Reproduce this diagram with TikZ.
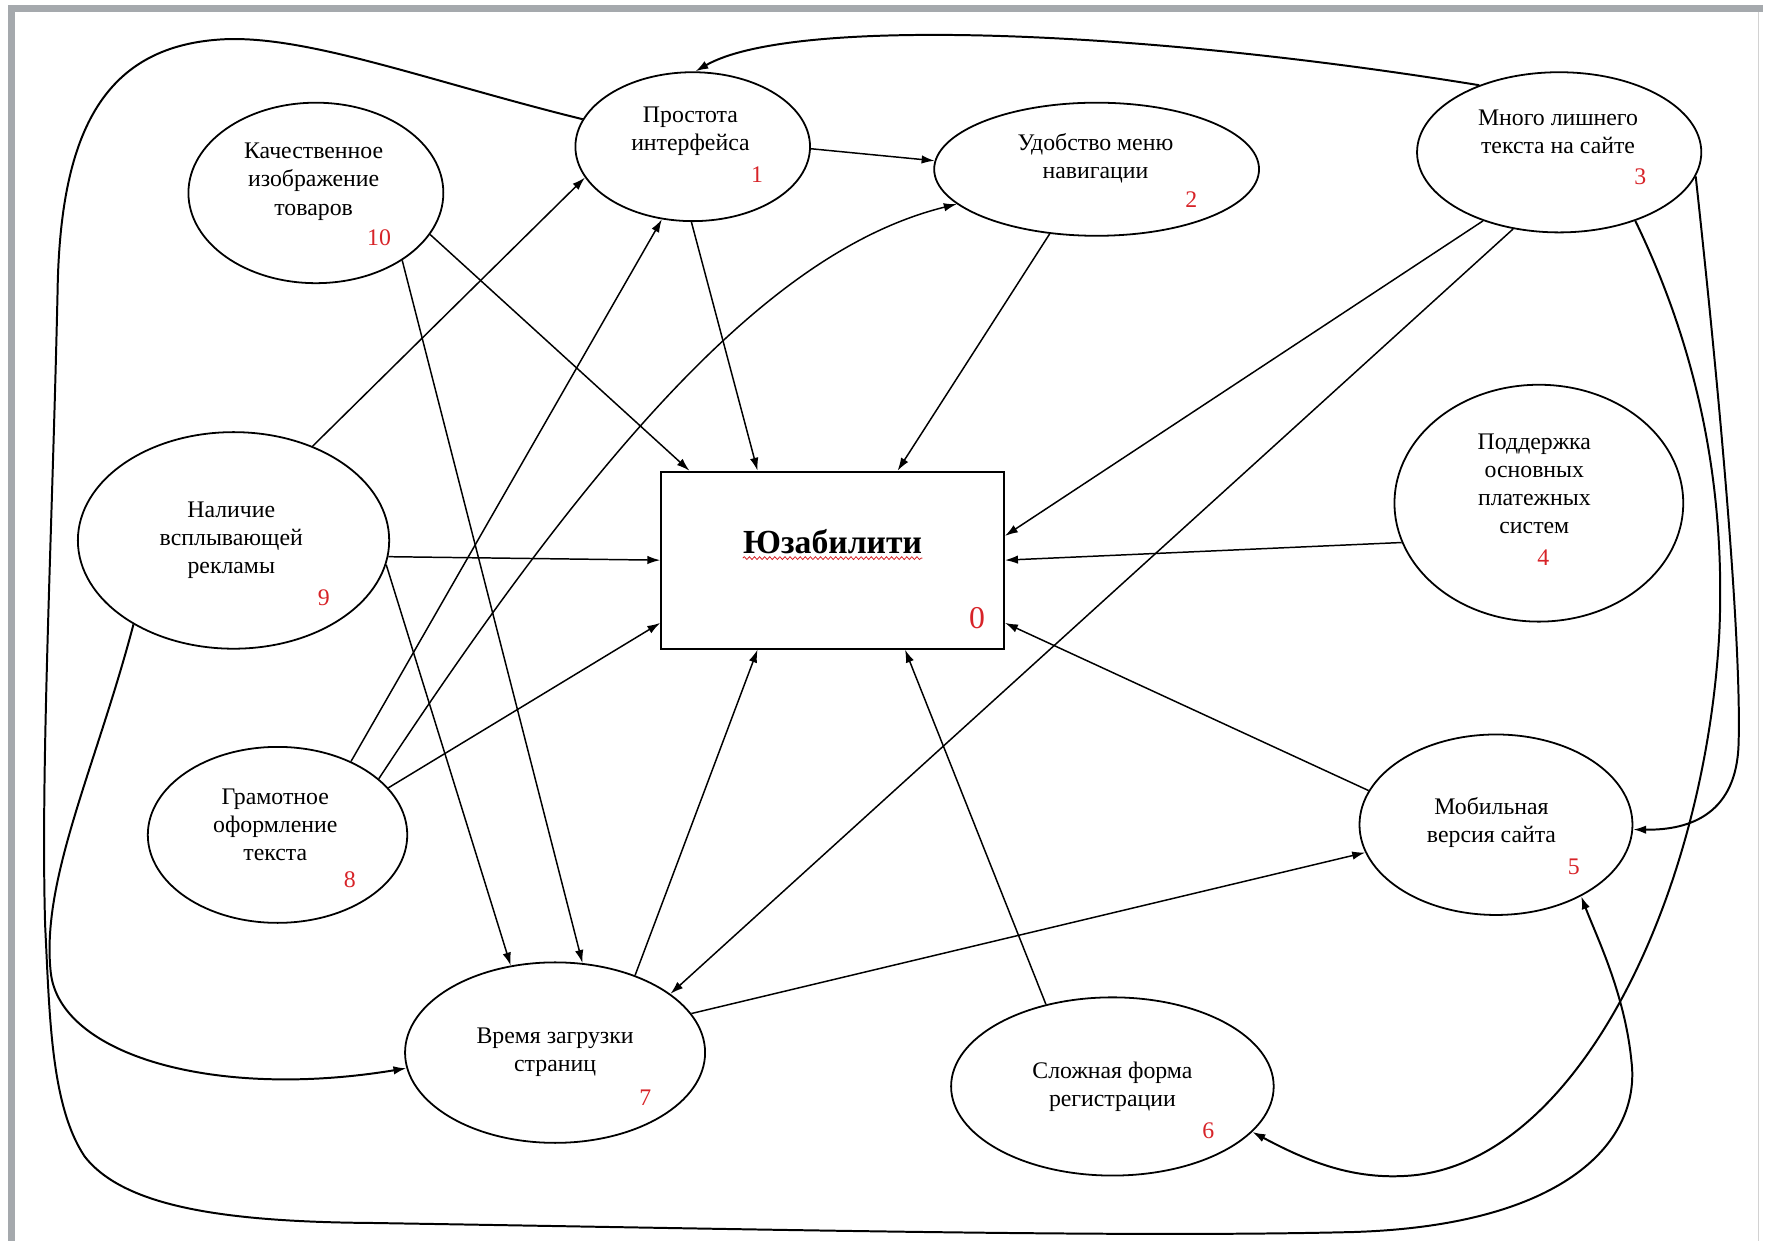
\documentclass[tikz,border=0pt]{standalone}
\usepackage{fontspec}
\setmainfont{Liberation Serif}
\usetikzlibrary{arrows.meta,shapes.geometric,decorations.pathmorphing}
\definecolor{numred}{RGB}{215,35,40}
\definecolor{framegray}{RGB}{165,169,173}
\begin{document}
\begin{tikzpicture}[x=0.02cm,y=-0.02cm,
 ell/.style={draw, ellipse, line width=0.9pt, inner sep=0pt},
 lbl/.style={align=center, inner sep=0pt, font=\fontsize{12}{14.2}\selectfont},
 num/.style={inner sep=0pt, text=numred, font=\fontsize{12}{14}\selectfont},
 con/.style={line width=0.75pt, -{Latex[length=2.3mm,width=1.5mm]}},
 curv/.style={line width=1pt, -{Latex[length=2.3mm,width=1.5mm]}}
]
\useasboundingbox (0,0) rectangle (1568,1100);
\fill[framegray] (7,4) rectangle (1563,11);
\fill[framegray] (7,4) rectangle (13,1100);
\draw[gray!35, line width=0.6pt] (1559,11) -- (1559,1100);

% ellipses
\node[ell, minimum width=4.16cm, minimum height=2.64cm] (n1) at (614,130) {};
\node[ell, minimum width=5.76cm, minimum height=2.36cm] (n2) at (972,150) {};
\node[ell, minimum width=5.04cm, minimum height=2.84cm] (n3) at (1382,135) {};
\node[ell, minimum width=5.12cm, minimum height=4.20cm] (n4) at (1364,446) {};
\node[ell, minimum width=4.84cm, minimum height=3.20cm] (n5) at (1326,731) {};
\node[ell, minimum width=5.72cm, minimum height=3.16cm] (n6) at (986,963) {};
\node[ell, minimum width=5.32cm, minimum height=3.20cm] (n7) at (492,933) {};
\node[ell, minimum width=4.60cm, minimum height=3.12cm] (n8) at (246,740) {};
\node[ell, minimum width=5.52cm, minimum height=3.84cm] (n9) at (207,479) {};
\node[ell, minimum width=4.52cm, minimum height=3.20cm] (n10) at (280,171) {};
\node[draw, rectangle, line width=0.9pt, minimum width=6.08cm, minimum height=3.14cm, inner sep=0pt] (box) at (738,496.5) {};

% texts
\node[lbl] (t1) at (612,116) {Простота\\интерфейса};
\node[num] (k1) at (671,155) {1};
\node[lbl] (t2) at (971,140) {Удобство меню\\навигации};
\node[num] (k2) at (1056,177) {2};
\node[lbl] (t3) at (1381,117) {Много лишнего\\текста на сайте};
\node[num] (k3) at (1454,157) {3};
\node[lbl] (t4) at (1360,429) {Поддержка\\основных\\платежных\\систем};
\node[num] (k4) at (1368,494) {4};
\node[lbl] (t5) at (1322,729) {Мобильная\\версия сайта};
\node[num] (k5) at (1395,768) {5};
\node[lbl] (t6) at (986,963) {Сложная форма\\регистрации};
\node[num] (k6) at (1071,1002) {6};
\node[lbl] (t7) at (492,933) {Время загрузки\\страниц};
\node[num] (k7) at (572,973) {7};
\node[lbl] (t8) at (244,731) {Грамотное\\оформление\\текста};
\node[num] (k8) at (310,780) {8};
\node[lbl] (t9) at (205,479) {Наличие\\всплывающей\\рекламы};
\node[num] (k9) at (287,530) {9};
\node[lbl] (t10) at (278,161) {Качественное\\изображение\\товаров};
\node[num] (k10) at (336,211) {10};
\node[inner sep=0pt, font=\fontsize{17}{20}\selectfont\bfseries] (t0) at (738,480) {Юзабилити};
\node[num, font=\fontsize{16}{18}\selectfont] (k0) at (866,548) {0};
\draw[numred, line width=0.4pt, decorate, decoration={snake, amplitude=0.25mm, segment length=0.9mm}]
  ([yshift=-0.7mm]t0.south west) -- ([yshift=-0.7mm]t0.south east);

% straight connectors
\draw[con] (n1.-1) -- (n2.177);
\draw[con] (n1.269) -- (box.130);
\draw[con] (n2.234) -- (box.54);
\draw[con] (n10.340) -- (box.148.3);
\draw[con] (n10.322) -- (n7.73.7);
\draw[con] (n9.50.5) -- (n1.196);
\draw[con] (n8.45.4) -- (n1.247);
\draw[con] (n8.23) -- (box.200.7);
\draw[con] (n9.-6.7) -- (box.180.6);
\draw[con] (n9.-9.8) -- (n7.117);
\draw[con] (n7.44.6) -- (box.230.8);
\draw[con] (n7.16.6) -- (n5.192.8);
\draw[con] (n6.129.4) -- (box.309.6);
\draw[con] (n5.165.2) -- (box.-20.7);
\draw[con] (n4.196.5) -- (box.0.6);
\draw[con] (n3.222) -- (box.8.8);
\draw[con] (n3.239.2) -- (n7.27);

% curved connectors
\draw[con] (n8.29.4) .. controls (540,380) and (690,220) .. (n2.194);
\draw[curv] (n3.140.6) .. controls (1000,25) and (700,15) .. (n1.88);
\draw[curv] (n3.-10.4) .. controls (1535,450) and (1543,600) .. (1541,660)
  .. controls (1539,720) and (1500,736) .. (n5.-2.8);
\draw[curv] (n3.-42.4) .. controls (1500,300) and (1530,420) .. (1524,560)
  .. controls (1512,790) and (1400,1030) .. (1250,1042)
  .. controls (1200,1046) and (1160,1030) .. (n6.-18.2);
\draw[curv] (n1.166.5) .. controls (380,72) and (270,30) .. (195,35)
  .. controls (90,42) and (53,120) .. (51,260)
  .. controls (46,480) and (36,680) .. (40,820)
  .. controls (44,900) and (45,980) .. (75,1025)
  .. controls (110,1070) and (200,1083) .. (330,1084)
  .. controls (700,1090) and (1000,1097) .. (1200,1092)
  .. controls (1390,1086) and (1455,1010) .. (1446,940)
  .. controls (1440,880) and (1415,830) .. (n5.-40.5);
\draw[curv] (n9.220.3) .. controls (85,680) and (36,780) .. (45,862)
  .. controls (53,935) and (190,975) .. (n7.186);
\end{tikzpicture}
\end{document}
